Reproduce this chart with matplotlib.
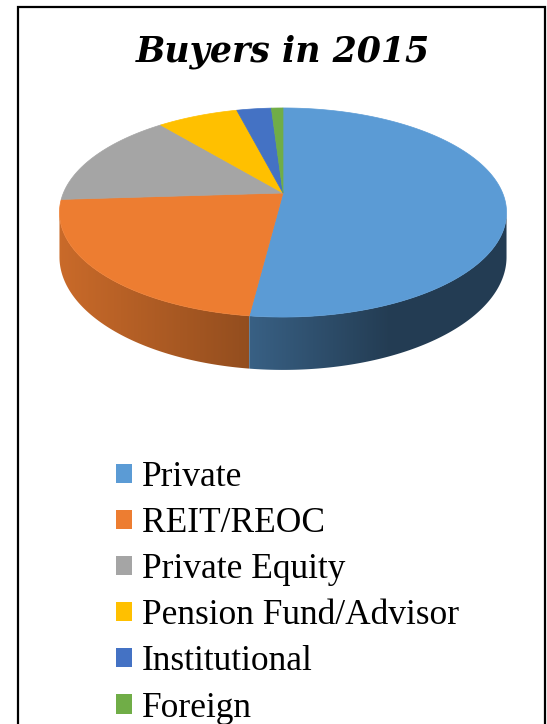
import numpy as np
import matplotlib
matplotlib.use("Agg")
from matplotlib import pyplot as plt
from matplotlib.patches import Polygon, Patch

# buyer mix, share of deals (%)
labels = ["Private", "REIT/REOC", "Private Equity", "Pension Fund/Advisor",
          "Institutional", "Foreign"]
values = [52, 22, 15, 7, 3, 1]
colors = ["#5B9BD5", "#ED7D31", "#A5A5A5", "#FFC000", "#4472C4", "#70AD47"]

W, H = 547, 724

# 3d pie geometry in pixels (apex, half axes, perspective, thickness)
cx, cy = 283, 193
A, B = 219.6, 100.9
persp = 0.1866
depth = 43.0


def proj(t, drop=0.0):
    u, v = np.cos(t), np.sin(t)
    s = 1.0 / (1.0 + persp * v)
    return cx + A * u * s, cy - B * v * s + drop * s


def shade(x):
    # side walls get darker towards the right
    return np.interp(x, [60, 250, 390], [0.85, 0.62, 0.39])


fig = plt.figure(figsize=(W / 100, H / 100), dpi=100)
ax = fig.add_axes([0, 0, 1, 1])
ax.set_xlim(0, W)
ax.set_ylim(H, 0)
ax.axis("off")

# wedge angles, clockwise from 12 o'clock
fracs = np.array(values, dtype=float) / sum(values)
ends = np.pi / 2 - 2 * np.pi * np.cumsum(fracs)
starts = np.concatenate([[np.pi / 2], ends[:-1]])

# visible part of the rim
lo = np.arcsin(persp) - np.pi
hi = -np.arcsin(persp)

for t0, t1, c in zip(starts, ends, colors):
    a0, a1 = t1, t0
    while a0 > hi:
        a0 -= 2 * np.pi
        a1 -= 2 * np.pi
    while a1 < lo:
        a0 += 2 * np.pi
        a1 += 2 * np.pi
    s0, s1 = max(a0, lo), min(a1, hi)
    if s1 <= s0:
        continue
    ts = np.linspace(s0, s1, 200)
    xt, yt = proj(ts)
    xb, yb = proj(ts, depth)
    pts = list(zip(xt, yt)) + list(zip(xb[::-1], yb[::-1]))
    wall = Polygon(pts, closed=True, facecolor="none", edgecolor="none")
    ax.add_patch(wall)
    # horizontal gradient clipped to the wall outline
    x0, x1 = min(xt.min(), xb.min()), max(xt.max(), xb.max())
    y0, y1 = yt.min(), yb.max()
    gx = np.linspace(x0, x1, int(x1 - x0) + 2)
    base = np.array(matplotlib.colors.to_rgb(c))
    grad = (shade(gx)[:, None] * base[None, :])[None, :, :]
    im = ax.imshow(grad, extent=(x0, x1, y1, y0), aspect="auto",
                   interpolation="bilinear", zorder=2)
    im.set_clip_path(wall)

ax.set_xlim(0, W)
ax.set_ylim(H, 0)

for t0, t1, c in zip(starts, ends, colors):
    ts = np.linspace(t0, t1, max(3, int(abs(np.degrees(t0 - t1)) * 2)))
    xs, ys = proj(ts)
    pts = [(cx, cy)] + list(zip(xs, ys))
    ax.add_patch(Polygon(pts, closed=True, facecolor=c, edgecolor=c,
                         linewidth=0.5, zorder=3))

ax.text(283, 52, "Buyers in 2015", ha="center", va="center",
        fontsize=25, fontweight="bold", fontstyle="italic",
        family="DejaVu Serif", zorder=5)

handles = [Patch(facecolor=c, edgecolor="none") for c in colors]
ax.legend(handles, labels, loc="upper left", bbox_to_anchor=(116, 461),
          bbox_transform=ax.transData, frameon=False, borderpad=0,
          borderaxespad=0, handlelength=0.46, handleheight=0.46,
          handletextpad=0.28, labelspacing=0.37,
          prop={"family": "Liberation Serif", "size": 25.5})

# outer frame, open at the bottom
ax.plot([18, 18, 545, 545], [H + 5, 7, 7, H + 5], color="black",
        linewidth=1.6, solid_joinstyle="miter", clip_on=False, zorder=6)

fig.savefig("out.png", dpi=100)
